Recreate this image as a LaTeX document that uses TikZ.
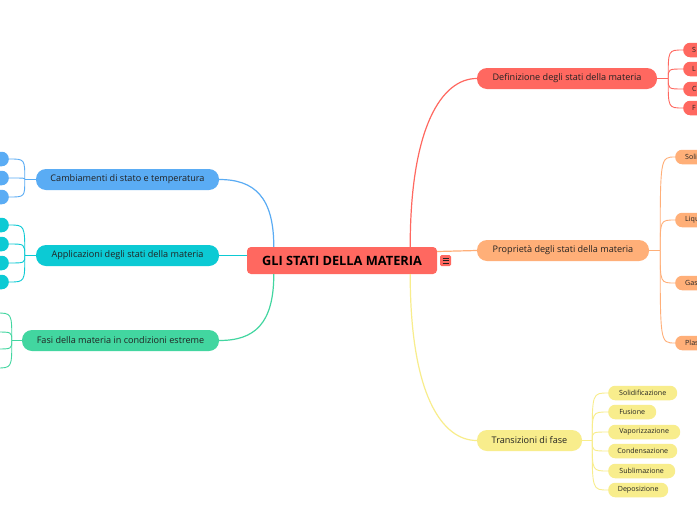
\documentclass[tikz,border=0pt]{standalone}
\usepackage{fontspec}
\setmainfont{Open Sans}
\usetikzlibrary{calc}
\definecolor{cred}{RGB}{255,104,96}
\definecolor{corange}{RGB}{255,175,120}
\definecolor{cyellow}{RGB}{248,237,140}
\definecolor{cblue}{RGB}{90,172,244}
\definecolor{cteal}{RGB}{12,202,212}
\definecolor{cgreen}{RGB}{66,214,160}
\definecolor{ctext}{RGB}{34,34,34}
\begin{document}
\begin{tikzpicture}[x=1pt,y=-1pt,
  central/.style={fill=cred, rounded corners=4pt, minimum width=190pt, minimum height=27pt, inner sep=0pt, font=\fontsize{12.8}{14}\selectfont\bfseries, text=black},
  branch/.style={rounded corners=10pt, minimum height=21pt, inner sep=0pt, font=\fontsize{9.1}{10}\selectfont, text=ctext},
  leaf/.style={rounded corners=7pt, minimum height=14.5pt, inner sep=0pt, font=\fontsize{7.1}{8}\selectfont, text=ctext},
  leafR/.style={leaf, anchor=west, text width=40pt, align=left, inner xsep=#1},
  leafL/.style={leaf, anchor=east, minimum width=40pt},
  conn/.style={line width=1.2pt},
  subconn/.style={line width=0.9pt},
]
\useasboundingbox (0,0) rectangle (697,520);
\clip (0,0) rectangle (697,520);
\fill[white] (0,0) rectangle (697,520);

% central
\node[central] (c) at (342,260.5) {GLI STATI DELLA MATERIA};
\node[fill=cred, rounded corners=1.5pt, minimum size=11pt, inner sep=0pt] (ic) at (445.5,260.5) {};
\foreach \dy in {-2.5,0,2.5}
  \draw[ctext, line width=0.7pt] ($(ic.center)+(-3,\dy)$) -- +(6,0);

% branches
\node[branch, fill=cred, minimum width=180pt] (def) at (567,78.5) {Definizione degli stati della materia};
\node[branch, fill=corange, minimum width=172pt] (prop) at (563,250.5) {Proprietà degli stati della materia};
\node[branch, fill=cyellow, minimum width=105pt] (trans) at (529.5,440.5) {Transizioni di fase};
\node[branch, fill=cblue, minimum width=183pt] (camb) at (127.5,179.5) {Cambiamenti di stato e temperatura};
\node[branch, fill=cteal, minimum width=183pt] (appl) at (127.5,255.5) {Applicazioni degli stati della materia};
\node[branch, fill=cgreen, minimum width=197pt] (fasi) at (120.5,340.5) {Fasi della materia in condizioni estreme};

% central connectors
\draw[conn, cred] ([xshift=-27pt]c.north east) .. controls +(0,-120) and +(-35,0) .. (def.west);
\draw[conn, cyellow] ([xshift=-27pt]c.south east) .. controls +(0,120) and +(-35,0) .. (trans.west);
\draw[conn, corange] ($(c.east)+(0,-9)$) .. controls +(20,0) and +(-20,0) .. (prop.west);
\draw[conn, cblue] ([xshift=27pt]c.north west) .. controls +(0,-50) and +(35,0) .. (camb.east);
\draw[conn, cgreen] ([xshift=27pt]c.south west) .. controls +(0,50) and +(35,0) .. (fasi.east);
\draw[conn, cteal] ($(c.west)+(0,-5)$) -- (appl.east);

% Definizione leaves
\node[leafR=9pt, fill=cred] (d1) at (683,50) {S};
\node[leafR=9pt, fill=cred] (d2) at (683,69) {L};
\node[leafR=9pt, fill=cred] (d3) at (683,89) {C};
\node[leafR=9pt, fill=cred] (d4) at (683,108) {F};
\coordinate (jd) at ($(def.east)+(11,0)$);
\draw[subconn, cred] (def.east) -- (jd);
\foreach \l in {d1,d2,d3,d4}
  \draw[subconn, cred] (jd) .. controls (jd |- \l.west) .. (\l.west);

% Proprieta leaves
\node[leafR=10pt, fill=corange] (p1) at (675,157) {Soli};
\node[leafR=10pt, fill=corange] (p2) at (675,220) {Liqu};
\node[leafR=10pt, fill=corange] (p3) at (675,283) {Gas};
\node[leafR=10pt, fill=corange] (p4) at (675,343) {Plas};
\coordinate (jp) at ($(prop.east)+(11,0)$);
\draw[subconn, corange] (prop.east) -- (jp);
\foreach \l in {p1,p2,p3,p4}
  \draw[subconn, corange] (jp) .. controls (jp |- \l.west) .. (\l.west);

% Transizioni leaves
\node[leaf, fill=cyellow, anchor=west, minimum width=69pt] (t1) at (608,393) {Solidificazione};
\node[leaf, fill=cyellow, anchor=west, minimum width=48pt] (t2) at (608,412) {Fusione};
\node[leaf, fill=cyellow, anchor=west, minimum width=72pt] (t3) at (608,432) {Vaporizzazione};
\node[leaf, fill=cyellow, anchor=west, minimum width=69pt] (t4) at (608,451) {Condensazione};
\node[leaf, fill=cyellow, anchor=west, minimum width=67pt] (t5) at (608,471) {Sublimazione};
\node[leaf, fill=cyellow, anchor=west, minimum width=60pt] (t6) at (608,490) {Deposizione};
\coordinate (jt) at ($(trans.east)+(10,0)$);
\draw[subconn, cyellow] (trans.east) -- (jt);
\foreach \l in {t1,t2,t3,t4,t5,t6}
  \draw[subconn, cyellow] (jt) .. controls (jt |- \l.west) .. (\l.west);

% Cambiamenti leaves
\node[leafL, fill=cblue] (b1) at (9,159) {};
\node[leafL, fill=cblue] (b2) at (9,178) {};
\node[leafL, fill=cblue] (b3) at (9,197) {};
\coordinate (jb) at ($(camb.west)+(-11,0)$);
\draw[subconn, cblue] (camb.west) -- (jb);
\foreach \l in {b1,b2,b3}
  \draw[subconn, cblue] (jb) .. controls (jb |- \l.east) .. (\l.east);

% Applicazioni leaves
\node[leafL, fill=cteal] (a1) at (9,225) {};
\node[leafL, fill=cteal] (a2) at (9,244) {};
\node[leafL, fill=cteal] (a3) at (9,263) {};
\node[leafL, fill=cteal] (a4) at (9,282) {};
\coordinate (ja) at ($(appl.west)+(-11,0)$);
\draw[subconn, cteal] (appl.west) -- (ja);
\foreach \l in {a1,a2,a3,a4}
  \draw[subconn, cteal] (ja) .. controls (ja |- \l.east) .. (\l.east);

% Fasi leaves (off page)
\coordinate (f1) at (-4,313);
\coordinate (f2) at (-4,332);
\coordinate (f3) at (-4,349);
\coordinate (f4) at (-4,368);
\coordinate (jf) at ($(fasi.west)+(-10,0)$);
\draw[subconn, cgreen] (fasi.west) -- (jf);
\foreach \l in {f1,f2,f3,f4}
  \draw[subconn, cgreen] (jf) .. controls (jf |- \l) .. (\l);
\end{tikzpicture}
\end{document}
